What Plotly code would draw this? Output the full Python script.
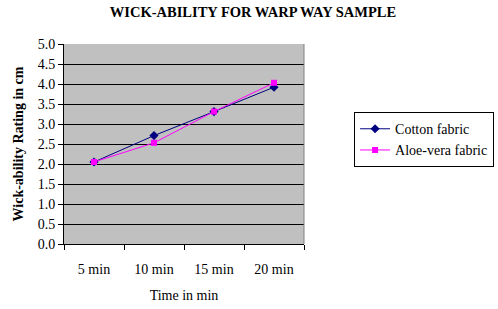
import plotly.graph_objects as go

categories = ["5 min", "10 min", "15 min", "20 min"]
cotton = [2.05, 2.71, 3.31, 3.92]
aloe = [2.05, 2.53, 3.31, 4.03]
y_ticks = [0.0, 0.5, 1.0, 1.5, 2.0, 2.5, 3.0, 3.5, 4.0, 4.5, 5.0]

font_family = "Liberation Serif, Times New Roman, serif"

fig = go.Figure()
fig.add_trace(go.Scatter(x=categories, y=cotton, mode="lines+markers", name="Cotton fabric",
                         line=dict(color="#000080", width=1),
                         marker=dict(symbol="diamond", size=7, color="#000080")))
fig.add_trace(go.Scatter(x=categories, y=aloe, mode="lines+markers", name="Aloe-vera fabric",
                         line=dict(color="#FF00FF", width=1),
                         marker=dict(symbol="square", size=6, color="#FF00FF")))

fig.update_layout(
    width=498, height=309,
    margin=dict(l=64, r=194, t=44, b=65, autoexpand=False),
    paper_bgcolor="white", plot_bgcolor="#C0C0C0",
    font=dict(family=font_family, size=14, color="black"),
    title=dict(text="<b>WICK-ABILITY FOR WARP WAY SAMPLE</b>", x=0.508, xanchor="center",
               y=0.962, yanchor="middle", font=dict(size=14.5, family=font_family)),
    showlegend=True,
    legend=dict(x=0.711, y=0.637, xref="container", yref="container",
                xanchor="left", yanchor="top",
                bordercolor="black", borderwidth=1, bgcolor="white",
                font=dict(size=14, family=font_family), tracegroupgap=2,
                itemwidth=30),
    xaxis=dict(type="category", showgrid=False, showline=True, linecolor="black", linewidth=1,
               ticks="outside", tickson="boundaries", ticklen=5, tickcolor="black",
               ticklabelstandoff=12, automargin=False,
               title=dict(text="Time in min", standoff=14, font=dict(size=14)),
               range=[-0.5, 3.5], zeroline=False, tickfont=dict(size=14)),
    yaxis=dict(range=[0, 5], tickvals=y_ticks, ticktext=[f"{v:.1f}" for v in y_ticks],
               showgrid=True, gridcolor="black", gridwidth=1, showline=True, linecolor="black",
               ticks="outside", ticklen=5, tickcolor="black", zeroline=False, automargin=False,
               title=dict(text="<b>Wick-ability Rating in cm</b>", standoff=10, font=dict(size=14)),
               tickfont=dict(size=14)),
)
fig.add_shape(type="line", xref="paper", yref="paper", x0=1, x1=1, y0=0, y1=1,
              line=dict(color="#808080", width=1))
fig.write_html("out.html", config={"displayModeBar": False},
               post_script="document.body.style.margin='0px';")
